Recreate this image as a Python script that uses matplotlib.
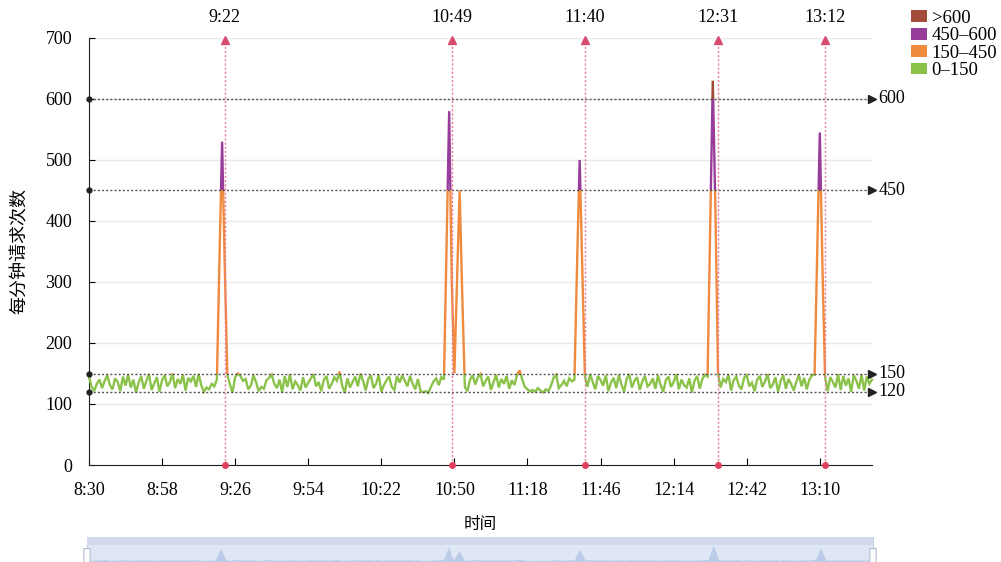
import matplotlib
matplotlib.use("Agg")
import matplotlib.pyplot as plt
from matplotlib.patches import Rectangle, Patch, FancyBboxPatch
import numpy as np

plt.rcParams["font.family"] = ["Liberation Serif", "Noto Sans CJK SC"]

# Запросов в минуту, 8:30 ... 13:30 (шаг 1 мин)
requests = [
    145, 128, 122, 133, 140, 126, 138, 147, 131, 124,  # 8:30
    142, 136, 121, 145, 130, 148, 127, 140, 119, 135,  # 8:40
    146, 125, 138, 149, 123, 134, 144, 120, 139, 147,  # 8:50
    129, 136, 150, 126, 141, 133, 148, 122, 143, 137,  # 9:00
    146, 128, 149, 131, 120, 127, 124, 133, 129, 140,  # 9:10
    340, 530, 330, 148, 132, 119, 144, 150, 146, 138,  # 9:20
    141, 124, 130, 147, 136, 121, 128, 125, 139, 143,  # 9:30
    148, 133, 126, 140, 119, 146, 128, 149, 124, 137,  # 9:40
    131, 122, 144, 127, 135, 142, 149, 129, 136, 121,  # 9:50
    140, 146, 125, 133, 144, 138, 153, 130, 118, 142,  # 10:00
    127, 136, 145, 129, 150, 138, 122, 141, 147, 126,  # 10:10
    133, 148, 120, 131, 139, 145, 128, 123, 146, 135,  # 10:20
    147, 138, 129, 146, 133, 124, 141, 122, 119, 121,  # 10:30
    118, 128, 137, 142, 131, 144, 140, 360, 580, 300,  # 10:40
    150, 300, 450, 280, 128, 121, 140, 147, 132, 144,  # 10:50
    149, 129, 138, 145, 123, 136, 148, 127, 141, 133,  # 11:00
    146, 125, 139, 131, 148, 155, 140, 128, 124, 121,  # 11:10
    123, 120, 126, 122, 119, 124, 121, 130, 143, 148,  # 11:20
    126, 131, 138, 129, 142, 137, 140, 330, 500, 320,  # 11:30
    145, 128, 149, 136, 124, 146, 139, 130, 147, 121,  # 11:40
    135, 143, 126, 148, 132, 120, 141, 149, 127, 138,  # 11:50
    144, 123, 137, 146, 129, 133, 142, 125, 147, 131,  # 12:00
    120, 139, 145, 128, 136, 149, 124, 140, 131, 127,  # 12:10
    142, 119, 138, 146, 125, 141, 148, 145, 390, 630,  # 12:20
    420, 150, 127, 141, 136, 148, 122, 139, 145, 130,  # 12:30
    124, 143, 147, 129, 135, 121, 140, 146, 128, 137,  # 12:40
    149, 126, 132, 144, 120, 138, 147, 125, 141, 133,  # 12:50
    122, 136, 148, 129, 143, 124, 140, 147, 148, 350,  # 13:00
    545, 330, 145, 121, 144, 136, 127, 149, 123, 146,  # 13:10
    130, 142, 120, 147, 138, 125, 148, 122, 145, 133,  # 13:20
    140,                                               # 13:30
]
tick_labels = ["8:30", "8:58", "9:26", "9:54", "10:22", "10:50",
               "11:18", "11:46", "12:14", "12:42", "13:10"]
mark_times = ["9:22", "10:49", "11:40", "12:31", "13:12"]
mark_levels = [600, 450, 150, 120]

bands = [(0, 150, "#8bc34a", "0–150"),
         (150, 450, "#f08a3c", "150–450"),
         (450, 600, "#983c9a", "450–600"),
         (600, 2000, "#a44b3a", ">600")]


def to_min(s):
    h, m = s.split(":")
    return (int(h) - 8) * 60 + int(m) - 30


x = np.arange(len(requests))
y = np.array(requests, dtype=float)

fig = plt.figure(figsize=(10.01, 5.62), dpi=100)
ax = fig.add_axes([89 / 1001, 97 / 562, 783 / 1001, 427 / 562])

ax.set_xlim(0, len(requests) - 1)
ax.set_ylim(0, 700)
ax.set_yticks(range(0, 701, 100))
for v in range(100, 701, 100):
    ax.axhline(v, color="#e8e8e8", lw=1, zorder=0)

# линия, раскрашенная по диапазонам значений
for lo, hi, col, _ in bands:
    ln, = ax.plot(x, y, color=col, lw=1.7, zorder=3, solid_joinstyle="miter")
    clip = Rectangle((-10, lo), len(requests) + 20, hi - lo, transform=ax.transData)
    ln.set_clip_path(clip)

# горизонтальные пороговые линии
for lv in mark_levels:
    ax.plot([0, len(requests) - 1], [lv, lv], color="#555555", lw=1,
            ls=(0, (1.5, 1.5)), zorder=4, clip_on=False)
    ax.plot([0], [lv], "o", color="#222222", ms=3.5, zorder=5, clip_on=False)
    ax.plot([len(requests) - 1], [lv], ">", color="#222222", ms=6, zorder=5, clip_on=False)
    ax.text(len(requests) + 1.5, lv, str(lv), fontsize=13, va="center", ha="left")

# вертикальные отметки времени
for t in mark_times:
    m = to_min(t)
    ax.plot([m, m], [0, 700], color="#e8789a", lw=1, ls=(0, (1.5, 1.5)), zorder=4, clip_on=False)
    ax.plot([m], [696], "^", color="#d84a6e", ms=6, zorder=5, clip_on=False)
    ax.plot([m], [0], "o", color="#e04060", ms=4, zorder=5, clip_on=False)
    ax.annotate(t, (m, 700), xytext=(0, 15), textcoords="offset points",
                ha="center", va="center", fontsize=13)

ax.set_xticks([to_min(t) for t in tick_labels])
ax.set_xticklabels(tick_labels)
ax.tick_params(axis="x", direction="in", length=5, pad=12, labelsize=13)
ax.tick_params(axis="y", direction="in", length=4, pad=12, labelsize=13)
for s in ["top", "right"]:
    ax.spines[s].set_visible(False)
ax.spines["left"].set_color("#222222")
ax.spines["bottom"].set_color("#222222")
ax.set_xlabel("时间", fontsize=12, labelpad=13)
ax.set_ylabel("每分钟请求次数", fontsize=13, labelpad=12)

handles = [Patch(facecolor=c, edgecolor="none", label=l) for _, _, c, l in bands[::-1]]
fig.legend(handles=handles, loc="upper left", bbox_to_anchor=(911 / 1001, 1 - 10 / 562),
           frameon=False, fontsize=13.5, handlelength=0.85, handleheight=0.6,
           labelspacing=0.02, handletextpad=0.25, borderpad=0.0, borderaxespad=0.0)

# ползунок масштабирования внизу
ax2 = fig.add_axes([87 / 1001, -8 / 562, 786 / 1001, 33 / 562])
ax2.set_facecolor("#dfe7f4")
ax2.fill_between(x, -200, y, color="#bccce8", lw=0)
ax2.set_xlim(0, len(requests) - 1)
ax2.set_ylim(-200, 900)
ax2.add_patch(Rectangle((0, 25 / 33), 1, 8 / 33, transform=ax2.transAxes,
                        facecolor="#d0daec", edgecolor="none", zorder=3))
for hx in [0, 1]:
    ax2.add_patch(FancyBboxPatch((hx - 0.003, 0.1), 0.006, 0.55, transform=ax2.transAxes,
                                 boxstyle="round,pad=0.001", facecolor="white",
                                 edgecolor="#b0bccc", lw=0.8, clip_on=False, zorder=4))
ax2.set_xticks([])
ax2.set_yticks([])
for s in ax2.spines.values():
    s.set_color("#c5d0e2")

fig.savefig("out.png", dpi=100)
